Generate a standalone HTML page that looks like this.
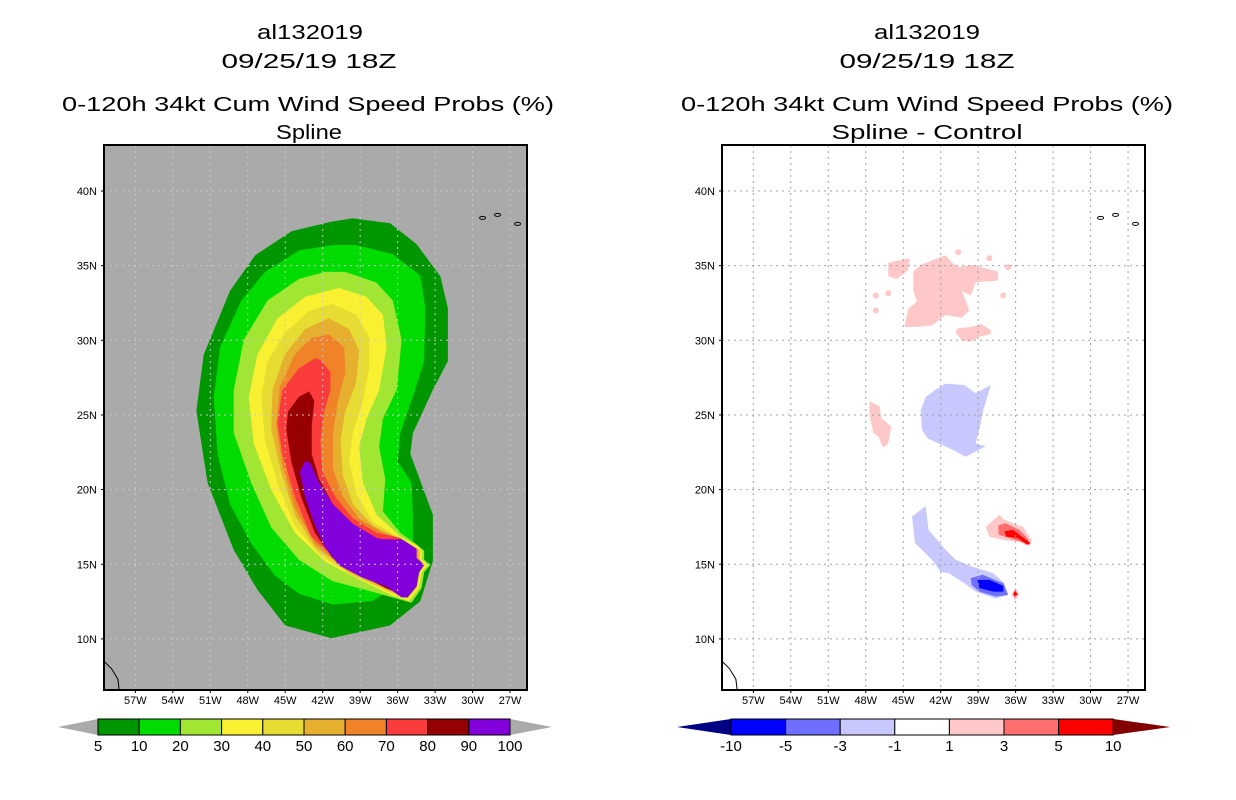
<!DOCTYPE html>
<html><head><meta charset="utf-8">
<style>
html,body{margin:0;padding:0;background:#fff;}
svg{display:block;font-family:"Liberation Sans",sans-serif;}
</style></head>
<body>
<svg id="chart" width="1236" height="800" viewBox="0 0 1236 800" xmlns="http://www.w3.org/2000/svg">
  <rect width="1236" height="800" fill="#fff"/>
  <g font-size="20" text-anchor="middle" fill="#000">
    <text x="310" y="39" textLength="106" lengthAdjust="spacingAndGlyphs">al132019</text>
    <text x="309" y="68" textLength="175" lengthAdjust="spacingAndGlyphs">09/25/19 18Z</text>
    <text x="308" y="111" textLength="492" lengthAdjust="spacingAndGlyphs">0-120h 34kt Cum Wind Speed Probs (%)</text>
    <text x="309" y="139" textLength="66" lengthAdjust="spacingAndGlyphs">Spline</text>
  </g>
  <g font-size="20" text-anchor="middle" fill="#000">
    <text x="927" y="39" textLength="106" lengthAdjust="spacingAndGlyphs">al132019</text>
    <text x="927" y="68" textLength="175" lengthAdjust="spacingAndGlyphs">09/25/19 18Z</text>
    <text x="927" y="111" textLength="492" lengthAdjust="spacingAndGlyphs">0-120h 34kt Cum Wind Speed Probs (%)</text>
    <text x="927" y="139" textLength="191" lengthAdjust="spacingAndGlyphs">Spline - Control</text>
  </g>
  <g id="leftPanel"></g>
  <g id="rightPanel"></g>
  <g id="leftBar"></g>
  <g id="rightBar"></g>
</svg>
<script>
// ---- data ----
const lonTicks = [57, 54, 51, 48, 45, 42, 39, 36, 33, 30, 27];
const latTicks = [40, 35, 30, 25, 20, 15, 10];
const probLevels = ["5","10","20","30","40","50","60","70","80","90","100"];
const probColors = ["#009600","#00dc00","#a0e632","#faf032","#e6dc32","#e6af2d","#f08228","#fa3c3c","#960000","#8200dc"];
const diffLevels = ["-10","-5","-3","-1","1","3","5","10"];
const diffColors = ["#000082","#0000ff","#6e6eff","#c8c8ff","#ffffff","#ffc8c8","#ff6e6e","#ff0000","#820000"];

// cumulative probability contours [lonW, latN]
const prob5 = [[39.6,38.15],[36.6,37.82],[34.5,36.43],[32.6,34.29],[32.0,32.14],[32.0,28.61],[33.2,26.68],[34.8,23.78],[35.0,22.39],[33.2,18.32],[33.2,15.21],[34.2,12.53],[36.6,10.92],[41.3,10.07],[45.0,10.92],[47.2,13.28],[49.1,15.96],[51.2,20.46],[52.1,25.28],[51.5,29.04],[49.4,33.32],[47.4,35.68],[44.5,37.29],[41.3,37.93]];
const prob10 = [[39.35,36.36],[36.4,35.76],[34.2,34.33],[33.8,32.18],[33.9,28.59],[34.8,26.2],[35.8,23.8],[36.0,21.89],[34.9,20.45],[34.8,18.3],[34.8,15.9],[35.8,13.76],[38.0,12.56],[41.2,12.32],[43.9,13.04],[45.8,14.23],[47.7,16.39],[49.4,19.02],[50.4,22.37],[50.7,26.2],[50.2,29.54],[48.5,32.66],[46.6,34.57],[43.9,36.0],[41.2,36.36]];
const prob20 = [[40.2,34.57],[37.7,33.85],[36.4,32.66],[35.7,30.02],[36.1,26.67],[37.2,24.76],[37.5,22.85],[37.0,20.69],[37.2,18.54],[35.8,17.1],[34.6,16.39],[33.9,15.9],[33.9,15.31],[33.4,14.95],[33.9,14.47],[34.1,13.4],[34.9,12.44],[38.5,13.28],[41.2,13.88],[43.9,15.31],[46.1,17.46],[47.7,20.45],[49.1,23.8],[49.1,26.67],[48.3,30.02],[46.4,32.66],[43.9,34.09],[41.8,34.57]];
const prob30 = [[40.7,33.49],[38.5,32.9],[37.2,31.7],[36.9,29.54],[37.5,26.67],[38.5,24.76],[39.1,22.85],[38.8,20.45],[37.7,18.3],[35.8,16.86],[34.3,16.15],[34.1,15.9],[34.1,15.31],[33.6,14.95],[34.1,14.47],[34.3,13.4],[35.1,12.56],[36.4,12.92],[39.1,13.99],[41.8,15.19],[44.2,17.1],[46.1,19.98],[47.5,23.09],[47.9,26.2],[47.2,29.07],[45.6,31.46],[43.4,32.9]];
const prob40 = [[41.2,32.42],[39.35,31.7],[38.3,30.26],[38.3,28.11],[38.8,25.96],[39.6,23.8],[39.9,21.89],[39.35,19.74],[38.0,17.82],[35.8,16.75],[34.2,15.96],[34.2,15.31],[33.8,14.95],[34.2,14.47],[34.4,13.44],[35.2,12.68],[36.4,13.04],[39.6,14.23],[42.3,15.67],[44.2,17.58],[45.6,20.45],[46.6,23.32],[46.9,26.2],[46.4,28.59],[45.0,30.5],[43.1,31.94]];
const prob50 = [[41.5,31.46],[39.9,30.74],[39.1,29.3],[39.35,27.15],[40.2,25.24],[40.6,23.32],[40.4,20.93],[39.6,19.02],[38.0,17.58],[35.8,16.67],[34.3,15.96],[34.3,15.31],[33.9,14.95],[34.3,14.47],[34.5,13.47],[35.2,12.75],[36.7,13.23],[39.9,14.47],[42.6,16.15],[44.2,18.3],[45.3,21.17],[46.1,24.04],[46.0,26.67],[45.0,29.07],[43.4,30.74]];
const prob60 = [[41.5,30.38],[40.3,29.54],[40.2,27.87],[40.8,25.96],[41.2,23.8],[41.2,21.41],[40.4,19.5],[39.1,18.06],[37.2,17.1],[35.6,16.63],[34.5,15.96],[34.5,15.31],[34.1,14.95],[34.5,14.47],[34.6,13.52],[35.3,12.8],[36.9,13.4],[40.2,14.71],[42.6,16.39],[44.2,18.78],[45.2,21.65],[45.7,24.28],[45.4,26.9],[44.2,29.07],[42.9,30.14]];
const prob70 = [[42.2,28.7],[41.4,27.87],[41.4,26.67],[41.9,25.24],[42.2,23.32],[42.05,21.17],[41.0,19.5],[39.6,18.06],[37.7,17.1],[35.8,16.75],[34.6,15.96],[34.6,15.31],[34.2,14.95],[34.6,14.47],[34.8,13.56],[35.35,12.85],[37.2,13.52],[40.4,14.95],[42.9,16.86],[44.2,19.5],[45.2,22.37],[45.6,24.52],[45.2,26.67],[43.9,28.11],[42.6,28.78]];
const prob80 = [[43.1,26.55],[42.7,25.96],[42.9,24.28],[42.9,22.37],[42.3,20.69],[41.2,19.02],[39.6,17.58],[37.7,16.5],[35.8,16.67],[34.8,15.96],[34.8,15.31],[34.4,14.95],[34.8,14.47],[34.9,13.61],[35.4,12.92],[36.9,13.4],[39.35,14.47],[41.2,15.43],[42.6,17.1],[43.7,19.5],[44.5,21.89],[44.9,24.04],[44.75,25.24],[43.9,26.2]];
const prob90 = [[43.4,21.89],[43.0,21.77],[42.3,20.45],[41.2,19.02],[39.6,17.7],[37.7,16.75],[37.2,16.67],[35.6,16.63],[34.5,16.03],[34.5,15.43],[33.9,14.95],[34.3,14.47],[34.5,13.52],[35.2,12.8],[35.7,12.8],[36.9,13.52],[38.8,14.11],[40.7,14.95],[41.8,16.15],[42.6,17.58],[43.4,19.5],[43.8,21.17]];

// difference contours [lonW, latN]
const pinkNW = [[46.2,35.2],[44.5,35.5],[44.6,34.7],[45.5,34.1],[46.2,34.3]];
const pinkMain = [[43.6,35.05],[41.6,35.7],[41.1,35.2],[40.5,34.9],[39.5,35.05],[37.4,34.6],[37.4,34.0],[39.2,33.9],[39.6,33.0],[40.3,33.3],[39.7,32.0],[40.3,31.5],[41.6,31.7],[42.7,31.0],[43.9,30.9],[44.9,30.9],[44.6,32.1],[43.9,32.6],[44.2,33.3],[44.2,34.6]];
const pinkSouth = [[40.7,30.8],[39.5,30.9],[38.8,31.1],[38.0,30.7],[38.0,30.4],[38.9,30.25],[39.6,29.9],[40.3,30.0],[40.8,30.5]];
const pinkDots = [[40.6,35.9],[37.0,33.0],[47.2,33.0],[46.2,33.15],[47.2,32.0],[38.1,35.5],[36.6,34.9]];
const pinkWest = [[47.7,25.9],[46.9,25.6],[46.76,24.8],[45.95,24.2],[46.2,23.1],[46.6,22.8],[47.0,23.55],[47.4,23.8],[47.7,25.0]];
const blueMid = [[42.4,26.7],[41.6,27.1],[40.1,27.0],[39.2,26.45],[38.0,27.0],[38.6,25.3],[38.8,24.45],[39.2,23.1],[38.4,22.9],[40.0,22.2],[41.1,22.7],[42.2,23.1],[43.0,23.4],[43.5,24.0],[43.6,25.3],[43.2,26.2]];
const blueBand = [[44.3,18.2],[43.2,18.9],[42.97,17.3],[41.6,15.96],[40.8,15.3],[39.5,14.85],[37.8,14.4],[36.9,13.73],[36.6,12.95],[37.6,12.7],[39.2,13.17],[40.1,13.73],[41.35,14.4],[42.0,14.5],[42.7,15.3],[43.5,15.96],[44.05,16.4]];
const blueMed = [[39.6,14.07],[38.65,14.3],[37.0,13.73],[36.6,12.95],[37.6,12.84],[38.9,13.17],[39.5,13.6]];
const blueDark = [[39.05,13.95],[38.1,13.95],[37.0,13.55],[36.97,13.17],[37.8,13.17],[38.9,13.4]];
const redLight = [[38.4,17.5],[37.3,18.3],[36.9,17.97],[35.4,17.5],[34.7,16.6],[34.9,16.2],[35.7,16.5],[36.8,16.6],[38.1,16.85]];
const redMed = [[37.4,17.6],[36.8,17.75],[35.7,17.3],[35.0,16.7],[34.9,16.3],[35.55,16.5],[36.5,16.75],[37.35,16.97]];
const redCore = [[36.9,17.2],[36.2,17.3],[35.7,16.97],[35.1,16.6],[34.8,16.4],[35.1,16.3],[35.8,16.75],[36.75,16.85]];
const redSpot = [36.03, 13.0];

// coastline fragments [lonW, latN]
const coastSW = [[59.5,8.5],[58.9,8.0],[58.4,7.3],[58.3,6.6]];
const azores = [[29.2,38.2],[28.0,38.4],[26.4,37.8]];

// ---- axis functions ----
const NS = "http://www.w3.org/2000/svg";
function mkPanel(x42) {
  return {
    left: x42 - 218.7, right: x42 + 204.3, top: 145, bottom: 690,
    x: lon => x42 + (42 - lon) * 12.49,
    y: lat => 191 + (40 - lat) * 14.93
  };
}
const LP = mkPanel(322.7), RP = mkPanel(940.7);
function el(tag, attrs, parent) {
  const e = document.createElementNS(NS, tag);
  for (const k in attrs) e.setAttribute(k, attrs[k]);
  parent.appendChild(e);
  return e;
}
function pts(P, arr) { return arr.map(p => P.x(p[0]).toFixed(1) + "," + P.y(p[1]).toFixed(1)).join(" "); }

function drawAxes(P, g, gridColor) {
  const grid = el("g", {}, g);
  
  
  lonTicks.forEach(l => {
    el("line", {x1: P.x(l), x2: P.x(l), y1: P.top, y2: P.bottom, stroke: gridColor, "stroke-width": 1, "stroke-dasharray": "2,4"}, grid);
  });
  latTicks.forEach(l => {
    el("line", {x1: P.left, x2: P.right, y1: P.y(l), y2: P.y(l), stroke: gridColor, "stroke-width": 1, "stroke-dasharray": "2,4"}, grid);
  });
  const coast = el("g", {fill: "none", stroke: "#000", "stroke-width": 1}, g);
  
  
  el("polyline", {points: pts(P, coastSW)}, coast);
  azores.forEach(a => el("ellipse", {cx: P.x(a[0]), cy: P.y(a[1]), rx: 3, ry: 1.5}, coast));
  const frame = el("rect", {x: P.left, y: P.top, width: P.right - P.left, height: P.bottom - P.top, fill: "none", stroke: "#000", "stroke-width": 2}, g);
  
  
  const xa = el("g", {"font-size": 11, "text-anchor": "middle"}, g);
  
  
  lonTicks.forEach(l => {
    el("line", {x1: P.x(l), x2: P.x(l), y1: P.bottom, y2: P.bottom + 3, stroke: "#000"}, xa);
    const t = el("text", {x: P.x(l), y: P.bottom + 14}, xa);
    t.textContent = l + "W";
  });
  const ya = el("g", {"font-size": 11, "text-anchor": "end"}, g);
  
  
  latTicks.forEach(l => {
    el("line", {x1: P.left - 3, x2: P.left, y1: P.y(l), y2: P.y(l), stroke: "#000"}, ya);
    const t = el("text", {x: P.left - 7, y: P.y(l) + 4}, ya);
    t.textContent = l + "N";
  });
}

// ---- left panel ----
const lg = document.getElementById("leftPanel");
const clipL = el("clipPath", {id: "clipL"}, lg);
el("rect", {x: LP.left, y: LP.top, width: LP.right - LP.left, height: LP.bottom - LP.top}, clipL);
el("rect", {x: LP.left, y: LP.top, width: LP.right - LP.left, height: LP.bottom - LP.top, fill: "#aaaaaa"}, lg);
const fills = el("g", {"clip-path": "url(#clipL)"}, lg);
const probShapes = [prob5, prob10, prob20, prob30, prob40, prob50, prob60, prob70, prob80, prob90];
probShapes.forEach((s, i) => {
  const p = el("polygon", {points: pts(LP, s), fill: probColors[i], stroke: probColors[i], "stroke-width": 0.5}, fills);
  
  
});
drawAxes(LP, lg, "#c8c8c8");

// ---- right panel ----
const rg = document.getElementById("rightPanel");
el("rect", {x: RP.left, y: RP.top, width: RP.right - RP.left, height: RP.bottom - RP.top, fill: "#fff"}, rg);
const rf = el("g", {}, rg);
function dshape(arr, color, name) {
  const p = el("polygon", {points: pts(RP, arr), fill: color}, rf);
  
  
}
dshape(pinkNW, diffColors[5], "diff-positive-nw");
dshape(pinkMain, diffColors[5], "diff-positive-main");
dshape(pinkSouth, diffColors[5], "diff-positive-south");
dshape(pinkWest, diffColors[5], "diff-positive-west");
pinkDots.forEach(d => {
  const c = el("circle", {cx: RP.x(d[0]), cy: RP.y(d[1]), r: 3, fill: diffColors[5]}, rf);
  
  
});
dshape(blueMid, diffColors[3], "diff-negative-mid");
dshape(blueBand, diffColors[3], "diff-negative-band");
dshape(blueMed, diffColors[2], "diff-negative-medium");
dshape(blueDark, diffColors[1], "diff-negative-strong");
dshape(redLight, diffColors[5], "diff-positive-light");
dshape(redMed, diffColors[6], "diff-positive-medium");
dshape(redCore, diffColors[7], "diff-positive-strong");
const sp = el("polygon", {points: [[0,-5],[3,0],[0,5],[-3,0]].map(o => (RP.x(redSpot[0]) + o[0]) + "," + (RP.y(redSpot[1]) + o[1])).join(" "), fill: diffColors[7], stroke: diffColors[5], "stroke-width": 1.5}, rf);


drawAxes(RP, rg, "#a0a0a0");

// ---- colorbars ----
function colorbar(g, x0, w, y0, h, triL, triR, colors, labels, lcol, rcol) {
  const n = colors.length;
  el("polygon", {points: `${x0},${y0} ${x0 - triL},${y0 + h / 2} ${x0},${y0 + h}`, fill: lcol}, g);
  const xe = x0 + n * w;
  el("polygon", {points: `${xe},${y0} ${xe + triR},${y0 + h / 2} ${xe},${y0 + h}`, fill: rcol}, g);
  colors.forEach((c, i) => {
    const r = el("rect", {x: x0 + i * w, y: y0, width: w, height: h, fill: c, stroke: "#000", "stroke-width": 1}, g);
    
    
  });
  labels.forEach((l, i) => {
    const t = el("text", {x: x0 + i * w, y: y0 + h + 16, "font-size": 15, "text-anchor": "middle"}, g);
    t.textContent = l;
  });
}
colorbar(document.getElementById("leftBar"), 98, 41.2, 719, 16, 40, 42, probColors, probLevels, "#aaaaaa", "#aaaaaa");
colorbar(document.getElementById("rightBar"), 731, 54.6, 719, 16, 54, 57, diffColors.slice(1, 8), diffLevels, diffColors[0], diffColors[8]);
</script>
</body></html>
